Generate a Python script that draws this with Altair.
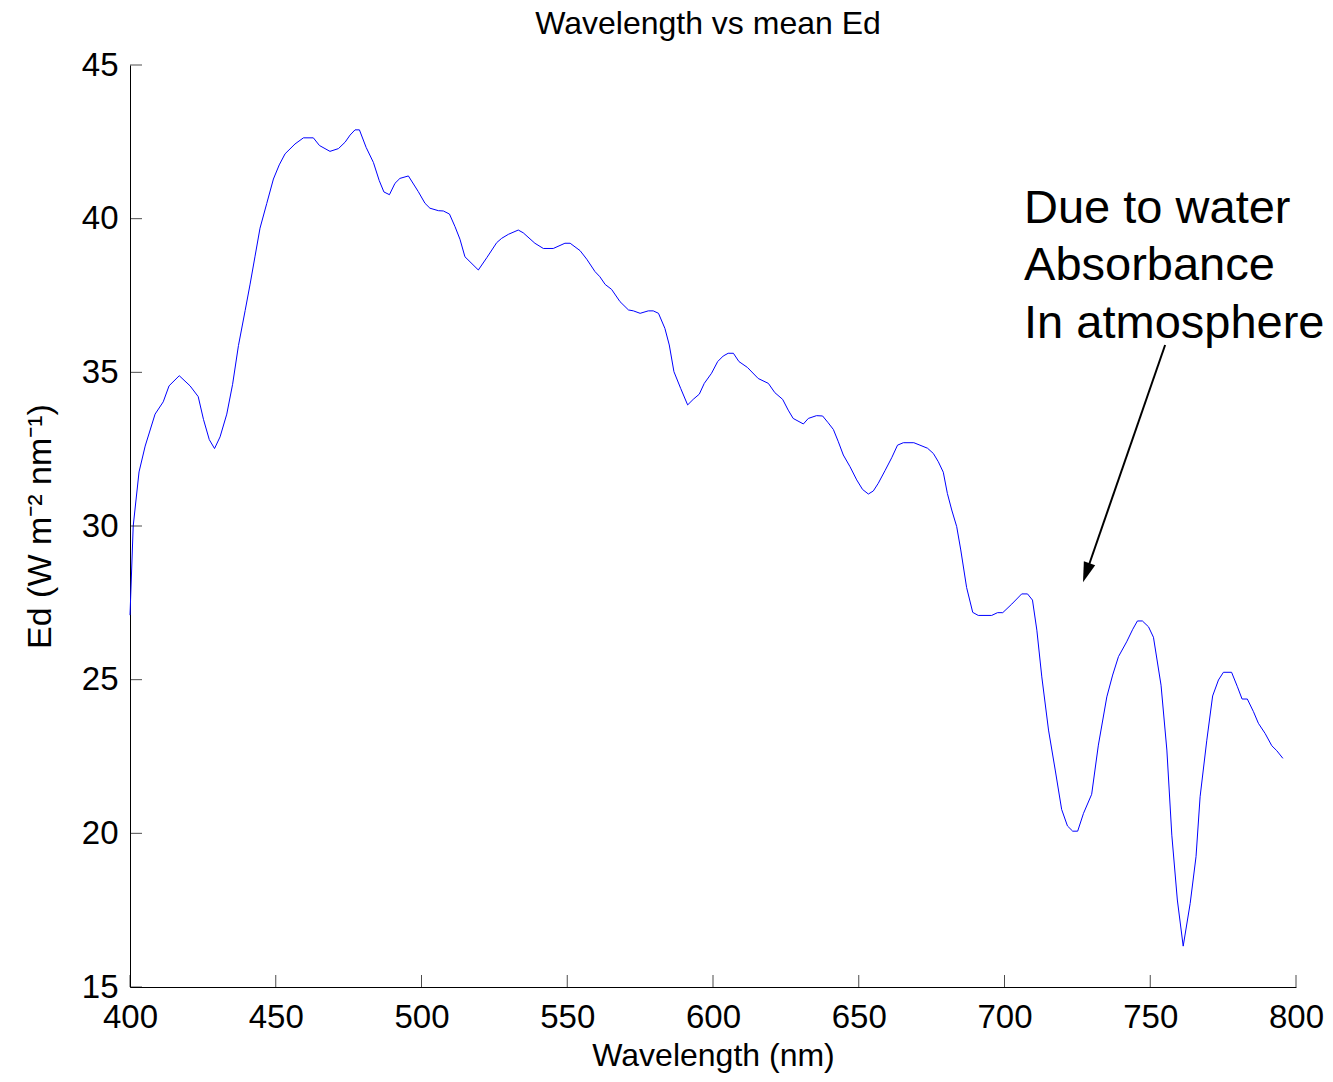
import altair as alt
import pandas as pd

# ---- data ----
wavelength = [
    400, 401.1, 403.1, 405.2, 408.6, 411.4, 413.4, 416.9, 420.6, 423.4,
    425.2, 427.2, 429.0, 430.9, 433.2, 435.2, 437.2, 439.5, 441.2, 442.9,
    444.6, 446.9, 449.2, 451.2, 453.2, 456.6, 459.5, 462.9, 465.0, 468.6,
    471.5, 473.8, 475.5, 477.2, 478.7, 481.0, 483.5, 485.5, 487.1, 489.0,
    490.9, 492.6, 495.5, 498.9, 501.2, 502.9, 505.8, 507.5, 509.6, 511.5,
    513.2, 514.9, 519.5, 522.4, 525.8, 527.5, 529.8, 533.2, 534.9, 538.9,
    541.8, 545.2, 549.2, 551.0, 554.4, 556.7, 559.5, 561.2, 563.0, 565.2,
    568.1, 571.0, 572.7, 575.0, 577.8, 579.5, 581.3,
    583.5, 585.0, 586.6, 588.9, 591.3, 593.2, 595.3, 597.0, 599.5, 601.6,
    603.5, 605.2, 607.0, 608.9, 611.8, 615.5, 619.0, 621.2, 623.9, 625.8,
    627.5, 631.0, 632.7, 635.5, 637.6, 639.5, 641.3, 643.0, 644.7, 647.0,
    649.3, 651.3, 653.3, 655.0, 656.7, 659.0, 661.3, 663.3, 665.3, 668.9,
    671.0, 673.6, 675.6, 677.3, 679.0, 680.4, 681.9, 683.6,
    685.0, 687.0, 689.1, 691.0, 695.6, 697.6, 699.4, 702.5, 705.9, 707.9,
    709.6, 711.1, 712.8, 715.1, 717.4, 719.6, 721.6, 723.4, 725.1, 727.1,
    729.9, 732.2, 735.1, 737.1, 739.1, 741.9, 744.0, 745.6, 747.3, 749.4,
    751.1, 753.7, 755.7, 757.4, 759.3, 761.3, 763.7, 765.7, 767.1, 769.4,
    771.4, 773.4, 775.1, 777.9, 779.9, 781.5, 783.3, 785.4, 787.1, 789.4,
    791.7, 793.4, 795.5,
]
ed = [
    27.1, 30.0, 31.76, 32.6, 33.64, 34.04, 34.56, 34.89, 34.56, 34.21,
    33.47, 32.81, 32.52, 32.9, 33.64, 34.61, 35.87, 37.01, 37.87, 38.78,
    39.69, 40.49, 41.29, 41.75, 42.11, 42.43, 42.63, 42.63, 42.38, 42.19,
    42.28, 42.49, 42.72, 42.89, 42.89, 42.32, 41.83, 41.24, 40.87, 40.78,
    41.15, 41.31, 41.39, 40.88, 40.50, 40.34, 40.26, 40.25, 40.15, 39.74,
    39.33, 38.76, 38.33, 38.73, 39.22, 39.36, 39.49, 39.63, 39.54, 39.2,
    39.03, 39.03, 39.2, 39.2, 38.96, 38.68, 38.28, 38.11, 37.86, 37.70,
    37.3, 37.03, 37.0, 36.92, 37.0, 37.0, 36.92,
    36.43, 35.89, 35.02, 34.48, 33.94, 34.12, 34.29, 34.64, 34.97, 35.35,
    35.53, 35.62, 35.62, 35.35, 35.16, 34.80, 34.64, 34.34, 34.12, 33.77,
    33.5, 33.32, 33.5, 33.59, 33.58, 33.36, 33.14, 32.74, 32.31, 31.93,
    31.5, 31.19, 31.04, 31.14, 31.39, 31.8, 32.22, 32.63, 32.71, 32.71,
    32.63, 32.53, 32.36, 32.09, 31.75, 31.06, 30.52, 29.98,
    29.22, 28.0, 27.19, 27.09, 27.09, 27.18, 27.18, 27.46, 27.79, 27.79,
    27.59, 26.61, 25.09, 23.36, 22.06, 20.78, 20.24, 20.07, 20.07, 20.65,
    21.27, 22.87, 24.44, 25.15, 25.75, 26.23, 26.64, 26.91, 26.91, 26.72,
    26.38, 24.82, 22.71, 19.94, 17.83, 16.33, 17.72, 19.24, 21.19, 23.03,
    24.47, 24.99, 25.24, 25.24, 24.77, 24.37, 24.37, 23.96, 23.58, 23.25,
    22.85, 22.69, 22.44,
]
x_ticks = [400, 450, 500, 550, 600, 650, 700, 750, 800]
y_ticks = [15, 20, 25, 30, 35, 40, 45]

title_text = "Wavelength vs mean Ed"
x_title = "Wavelength (nm)"
y_title = "Ed (W m\u207b\u00b2 nm\u207b\u00b9)"

note_lines = ["Due to water", "Absorbance", "In atmosphere"]
note_pos = {"x": 706.7, "y": 39.86}
arrow_start = {"x": 755.1, "y": 35.89}
arrow_head = {"x": 728.05, "y": 28.48}

FONT = "Liberation Sans"
W, H = 1166, 922

xs = alt.Scale(domain=[400, 800], nice=False, zero=False)
ys = alt.Scale(domain=[15, 45], nice=False, zero=False)

df = pd.DataFrame({"wl": wavelength, "ed": ed})

xaxis = alt.Axis(values=x_ticks, title=x_title, grid=False, ticks=False, tickSize=0,
                 labelPadding=14, labelFontSize=33, labelFont=FONT, labelColor="black",
                 titleFontSize=32, titleFont=FONT, titleFontWeight="normal", titleColor="black",
                 titlePadding=6, domainColor="black", domainWidth=1, labelFlush=False)
yaxis = alt.Axis(values=y_ticks, title=y_title, grid=False, ticks=False, tickSize=0,
                 labelPadding=12, labelFontSize=33, labelFont=FONT, labelColor="black",
                 titleFontSize=34, titleFont=FONT, titleFontWeight="normal", titleColor="black",
                 titlePadding=24, domainColor="black", domainWidth=1, labelFlush=False)

line = alt.Chart(df).mark_line(color="#0000FF", strokeWidth=1).encode(
    x=alt.X("wl:Q", scale=xs, axis=xaxis),
    y=alt.Y("ed:Q", scale=ys, axis=yaxis),
)

xt = alt.Chart(pd.DataFrame({"t": x_ticks})).mark_tick(
    orient="vertical", color="black", thickness=1, size=12
).encode(x=alt.X("t:Q", scale=xs), y=alt.value(H - 6))

yt = alt.Chart(pd.DataFrame({"t": y_ticks})).mark_tick(
    orient="horizontal", color="black", thickness=1, size=12
).encode(y=alt.Y("t:Q", scale=ys), x=alt.value(6))

note = alt.Chart(pd.DataFrame([note_pos])).mark_text(
    text=note_lines, align="left", baseline="alphabetic", fontSize=47,
    font=FONT, color="black", lineHeight=57.5
).encode(x=alt.X("x:Q", scale=xs), y=alt.Y("y:Q", scale=ys))

arrow_df = pd.DataFrame([
    {"x": arrow_start["x"], "y": arrow_start["y"], "o": 0},
    {"x": arrow_head["x"], "y": arrow_head["y"], "o": 1},
])
arrow = alt.Chart(arrow_df).mark_line(color="black", strokeWidth=2).encode(
    x=alt.X("x:Q", scale=xs), y=alt.Y("y:Q", scale=ys), order="o:Q"
)
head = alt.Chart(pd.DataFrame([arrow_head])).mark_point(
    shape="M0,-1L0.6,1L-0.6,1Z", size=400, angle=199, filled=True,
    color="black", opacity=1, strokeWidth=0
).encode(x=alt.X("x:Q", scale=xs), y=alt.Y("y:Q", scale=ys))

title = alt.Chart(pd.DataFrame({"t": [title_text]})).mark_text(
    align="center", baseline="alphabetic", fontSize=32, font=FONT, color="black"
).encode(text="t:N", x=alt.value(W / 2 - 5), y=alt.value(-31))

chart = alt.layer(line, xt, yt, note, arrow, head, title).properties(
    width=W, height=H,
    background="white",
    autosize=alt.AutoSizeParams(type="none"),
    padding={"left": 122, "top": 57, "right": 29, "bottom": 87},
).configure_view(stroke="transparent", strokeWidth=0)

chart.save("out.html", embed_options={"renderer": "svg", "actions": False})
